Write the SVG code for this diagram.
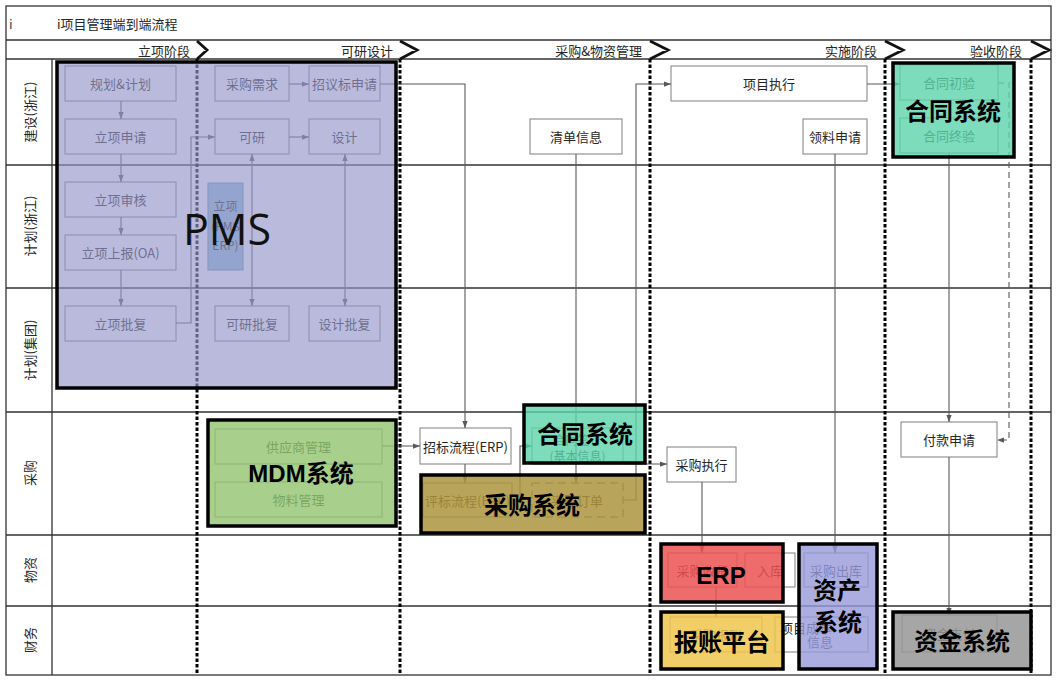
<svg xmlns="http://www.w3.org/2000/svg" width="1056" height="681" viewBox="0 0 1056 681">
<defs>
<style>
.grid{stroke:#333;stroke-width:1.3;fill:none}
.div{stroke:#000;stroke-width:3;stroke-dasharray:3.5 2;fill:none}
.chev{stroke:#111;stroke-width:2.8;fill:none;stroke-linejoin:miter}
.node{fill:#fff;stroke:#7f7f7f;stroke-width:1}
.t{font-family:"Noto Sans CJK SC","Liberation Sans",sans-serif;font-size:13px;fill:#262626;text-anchor:middle;dominant-baseline:central}
.ph{font-family:"Noto Sans CJK SC","Liberation Sans",sans-serif;font-size:13px;fill:#262626;text-anchor:end;dominant-baseline:central}
.conn{stroke:#595959;stroke-width:1.1;fill:none}
.sys{stroke:#000;stroke-width:3.5}
.big{font-family:"Liberation Sans","Noto Sans CJK SC",sans-serif;font-weight:bold;font-size:24px;fill:#000;text-anchor:middle;dominant-baseline:central}
</style>
<marker id="a" viewBox="0 0 8 8" refX="8" refY="4" markerWidth="7" markerHeight="7" orient="auto-start-reverse" markerUnits="userSpaceOnUse"><path d="M0,1 L8,4 L0,7 z" fill="#595959"/></marker>
</defs>
<rect width="1056" height="681" fill="#fff"/>

<g id="grid">
<rect x="6" y="6" width="1045" height="669" class="grid" stroke-width="1.5"/>
<path class="grid" d="M6,40 H1051 M6,59 H1051 M6,165 H1051 M6,288 H1051 M6,412 H1051 M6,535 H1051 M6,606 H1051 M52,59 V675"/>
<path class="div" d="M197,59 V675 M400,59 V675 M650,59 V675 M885,59 V675 M1031,59 V675"/>
<path class="chev" d="M197,41 L207,50 L197,59 M400,41 L417,50 L400,59 M650,41 L668,50 L650,59 M885,41 L903,50 L885,59 M1031,41 L1049,50 L1031,59"/>
<text class="t" x="9" y="23" style="text-anchor:start;fill:#444">i</text>
<text class="t" x="57" y="23" style="text-anchor:start">i项目管理端到端流程</text>
<text class="ph" x="190" y="50">立项阶段</text>
<text class="ph" x="393" y="50">可研设计</text>
<text class="ph" x="642" y="50">采购&amp;物资管理</text>
<text class="ph" x="877" y="50">实施阶段</text>
<text class="ph" x="1022" y="50">验收阶段</text>
<text class="t" transform="translate(29,112) rotate(-90)">建设(浙江)</text>
<text class="t" transform="translate(29,226) rotate(-90)">计划(浙江)</text>
<text class="t" transform="translate(29,350) rotate(-90)">计划(集团)</text>
<text class="t" transform="translate(29,473) rotate(-90)">采购</text>
<text class="t" transform="translate(29,570) rotate(-90)">物资</text>
<text class="t" transform="translate(29,640) rotate(-90)">财务</text>
</g>

<g id="n-guihua"><rect class="node" x="65" y="66" width="111" height="35"/><text class="t" x="120.5" y="83.5">规划&amp;计划</text></g>
<g id="n-lxsq"><rect class="node" x="65" y="119" width="111" height="35"/><text class="t" x="120.5" y="136.5">立项申请</text></g>
<g id="n-lxsh"><rect class="node" x="65" y="182" width="111" height="35"/><text class="t" x="120.5" y="199.5">立项审核</text></g>
<g id="n-lxsb"><rect class="node" x="65" y="235" width="111" height="35"/><text class="t" x="120.5" y="252.5">立项上报(OA)</text></g>
<g id="n-lxpf"><rect class="node" x="65" y="306" width="111" height="35"/><text class="t" x="120.5" y="323.5">立项批复</text></g>
<g id="n-cgxq"><rect class="node" x="215" y="66" width="74" height="35"/><text class="t" x="252" y="83.5">采购需求</text></g>
<g id="n-zybsq"><rect class="node" x="309" y="66" width="71" height="35"/><text class="t" x="344.5" y="83.5">招议标申请</text></g>
<g id="n-ky"><rect class="node" x="215" y="119" width="74" height="35"/><text class="t" x="252" y="136.5">可研</text></g>
<g id="n-sj"><rect class="node" x="309" y="119" width="71" height="35"/><text class="t" x="344.5" y="136.5">设计</text></g>
<g id="n-lxpe"><rect x="208" y="183" width="35" height="87" fill="#8fc0d8" stroke="#6f8fb0"/><text class="t" x="225.5" y="205" style="font-size:12px">立项</text><text class="t" x="225.5" y="225" style="font-size:12px">(PMS</text><text class="t" x="225.5" y="244" style="font-size:12px">ERP)</text></g>
<g id="n-kypf"><rect class="node" x="215" y="306" width="74" height="35"/><text class="t" x="252" y="323.5">可研批复</text></g>
<g id="n-sjpf"><rect class="node" x="309" y="306" width="71" height="35"/><text class="t" x="344.5" y="323.5">设计批复</text></g>

<g id="n-zblc"><rect class="node" x="420" y="428" width="91" height="36"/><text class="t" x="465.5" y="446">招标流程(ERP)</text></g>
<g id="n-qdxx"><rect class="node" x="530" y="119" width="92" height="35"/><text class="t" x="576" y="136.5">清单信息</text></g>
<g id="n-xmzx"><rect class="node" x="671" y="66" width="196" height="35"/><text class="t" x="769" y="83.5">项目执行</text></g>
<g id="n-llsq"><rect class="node" x="803" y="119" width="64" height="35"/><text class="t" x="835" y="136.5">领料申请</text></g>
<g id="n-cgzx"><rect class="node" x="667" y="447" width="69" height="35"/><text class="t" x="701.5" y="464.5">采购执行</text></g>
<g id="n-fksq"><rect class="node" x="901" y="422" width="96" height="35"/><text class="t" x="949" y="439.5">付款申请</text></g>
<g id="n-gys"><rect class="node" x="215" y="429" width="167" height="35"/><text class="t" x="298.5" y="446.5">供应商管理</text></g>
<g id="n-wl"><rect class="node" x="215" y="482" width="167" height="35"/><text class="t" x="298.5" y="499.5">物料管理</text></g>
<g id="n-pblc"><rect class="node" x="423" y="483" width="89" height="34"/><text class="t" x="467.5" y="500">评标流程(ERP)</text></g>
<g id="n-cgdd"><rect x="532" y="483" width="91" height="34" fill="#fff" stroke="#555" stroke-dasharray="8 5"/><text class="t" x="577" y="500">采购订单</text></g>
<g id="n-htqd"><rect class="node" x="532" y="428" width="91" height="36"/><text class="t" x="577.5" y="439" style="font-size:12px">合同签订</text><text class="t" x="577.5" y="455" style="font-size:12px">(基本信息)</text></g>
<g id="n-htcy"><rect class="node" x="900" y="65" width="98" height="35"/><text class="t" x="949" y="82.5">合同初验</text></g>
<g id="n-htzy"><rect class="node" x="900" y="118" width="98" height="35"/><text class="t" x="949" y="135.5">合同终验</text></g>
<g id="n-cgsh"><rect class="node" x="668" y="553" width="69" height="34"/><text class="t" x="702.5" y="570">采购收货</text></g>
<g id="n-rk"><rect class="node" x="745" y="553" width="50" height="34"/><text class="t" x="770" y="570">入库</text></g>
<g id="n-cgck"><rect class="node" x="804" y="553" width="64" height="34"/><text class="t" x="836" y="570">采购出库</text></g>
<g id="n-cgbz"><rect class="node" x="670" y="617" width="92" height="35"/><text class="t" x="716" y="634.5">采购报账</text></g>
<g id="n-xmcb"><rect class="node" x="775" y="617" width="93" height="35"/><text class="t" x="806" y="627">项目成本</text><text class="t" x="820" y="641">信息</text></g>
<g id="n-zjzf"><rect class="node" x="902" y="615" width="95" height="37"/><text class="t" x="949.5" y="633.5">资金支付</text></g>

<g id="connectors">
<path class="conn" marker-end="url(#a)" d="M121,101 V119"/>
<path class="conn" marker-end="url(#a)" d="M121,154 V182"/>
<path class="conn" marker-end="url(#a)" d="M121,217 V235"/>
<path class="conn" marker-end="url(#a)" d="M121,270 V306"/>
<path class="conn" marker-end="url(#a)" d="M176,323 H191 V137 H215"/>
<path class="conn" marker-end="url(#a)" d="M289,84 H309"/>
<path class="conn" marker-end="url(#a)" d="M289,137 H309"/>
<path class="conn" marker-start="url(#a)" marker-end="url(#a)" d="M252,154 V306"/>
<path class="conn" marker-start="url(#a)" marker-end="url(#a)" d="M345,154 V306"/>
<path class="conn" marker-end="url(#a)" d="M380,84 H465 V428"/>
<path class="conn" marker-end="url(#a)" d="M382,446 H420"/>
<path class="conn" marker-end="url(#a)" d="M465,464 V483"/>
<path class="conn" marker-end="url(#a)" d="M512,500 H520 V446 H532"/>
<path class="conn" marker-end="url(#a)" d="M576,154 V483"/>
<path class="conn" marker-end="url(#a)" d="M623,500 H636 V84 H671"/>
<path class="conn" marker-end="url(#a)" d="M623,464 H667"/>
<path class="conn" marker-end="url(#a)" d="M702,482 V553"/>
<path class="conn" marker-end="url(#a)" d="M867,84 H900"/>
<path class="conn" marker-end="url(#a)" d="M835,154 V553"/>
<path class="conn" marker-end="url(#a)" d="M949,153 V422"/>
<path class="conn" marker-end="url(#a)" stroke-dasharray="6 4" d="M998,83 H1009 V440 H997"/>
<path class="conn" marker-end="url(#a)" d="M949,457 V615"/>
<path class="conn" marker-end="url(#a)" d="M716,587 V617"/>
</g>

<g id="sys-pms"><rect class="sys" x="57" y="62" width="339" height="326" fill="#9596c9" fill-opacity="0.65" stroke-width="3"/><text x="227" y="228" style="font-family:'Open Sans','Liberation Sans',sans-serif;font-size:43px;fill:#111;text-anchor:middle;dominant-baseline:central">PMS</text></g>
<g id="sys-mdm"><rect class="sys" x="208" y="420" width="188" height="106" fill="#92c46f" fill-opacity="0.8"/><text class="big" x="301" y="473">MDM系统</text></g>
<g id="sys-ht2"><rect class="sys" x="524" y="405" width="121" height="58" fill="#5cd3ab" fill-opacity="0.8"/><text class="big" x="585" y="434">合同系统</text></g>
<g id="sys-cg"><rect class="sys" x="421" y="475" width="224" height="58" fill="#ab943d" fill-opacity="0.85"/><text class="big" x="532" y="505">采购系统</text></g>
<g id="sys-ht1"><rect class="sys" x="893" y="63" width="121" height="94" fill="#5cd3ab" fill-opacity="0.8"/><text class="big" x="953" y="111">合同系统</text></g>
<g id="sys-erp"><rect class="sys" x="661" y="544" width="122" height="58" fill="#eb5252" fill-opacity="0.85"/><text class="big" x="721" y="575">ERP</text></g>
<g id="sys-bz"><rect class="sys" x="661" y="612" width="122" height="57" fill="#f0c54d" fill-opacity="0.85"/><text class="big" x="722" y="642">报账平台</text></g>
<g id="sys-zc"><rect class="sys" x="799" y="544" width="78" height="125" fill="#979adb" fill-opacity="0.8"/><text class="big" x="837" y="590">资产</text><text class="big" x="838" y="622">系统</text></g>
<g id="sys-zj"><rect class="sys" x="893" y="612" width="138" height="57" fill="#969696" fill-opacity="0.85"/><text class="big" x="962" y="641">资金系统</text></g>
</svg>
